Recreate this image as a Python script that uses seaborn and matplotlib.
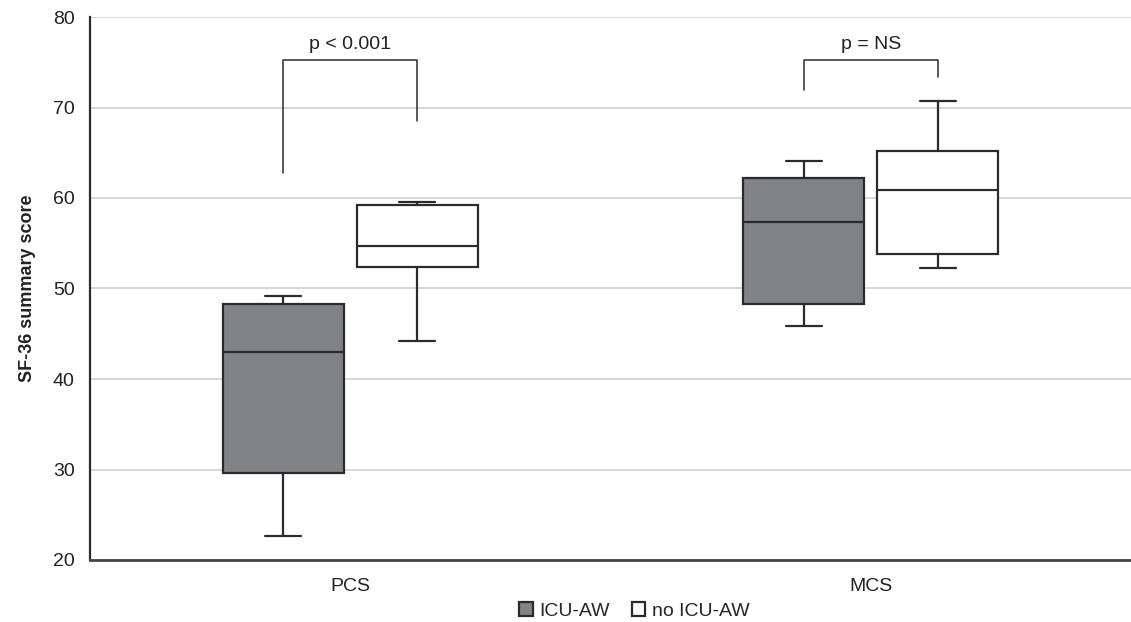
import pandas as pd
import seaborn as sns
import matplotlib.pyplot as plt

# Five-number summaries: min, Q1, median, Q3, max
measures = ["PCS", "MCS"]
groups = ["ICU-AW", "no ICU-AW"]
pcs_icu_aw = [22.6, 29.6, 43.0, 48.3, 49.2]
pcs_no_icu_aw = [44.2, 52.4, 54.7, 59.2, 59.6]
mcs_icu_aw = [45.9, 48.3, 57.3, 62.2, 64.1]
mcs_no_icu_aw = [52.3, 53.8, 60.9, 65.2, 70.7]

# significance brackets: left leg bottom, bar height, right leg bottom
p_labels = ["p < 0.001", "p = NS"]
bracket_left = [62.8, 71.9]
bracket_right = [68.5, 73.4]
bracket_top = 75.25
p_text_y = 77.0

yticks = [20, 30, 40, 50, 60, 70, 80]

rows = []
for m, g, vals in [("PCS", "ICU-AW", pcs_icu_aw), ("PCS", "no ICU-AW", pcs_no_icu_aw),
                   ("MCS", "ICU-AW", mcs_icu_aw), ("MCS", "no ICU-AW", mcs_no_icu_aw)]:
    for v in vals:
        rows.append({"measure": m, "group": g, "score": v})
df = pd.DataFrame(rows)

sns.set_theme(style="white")
plt.rcParams["font.family"] = ["Liberation Sans", "DejaVu Sans"]

dark = "#2b2b2b"
fig = plt.figure(figsize=(11.31, 6.22), dpi=100)
ax = fig.add_axes([90 / 1131, 62 / 622, 1041 / 1131, 543 / 622])

width = 0.515
sns.boxplot(data=df, x="measure", y="score", hue="group", order=measures,
            hue_order=groups, palette={"ICU-AW": "#808286", "no ICU-AW": "white"},
            width=width, gap=0.097, whis=(0, 100), fliersize=0, saturation=1,
            linecolor=dark, linewidth=1.6, ax=ax)

# narrower whisker caps
box_w = width / 2 * (1 - 0.097)
for line in ax.lines:
    xs, ys = line.get_xdata(), line.get_ydata()
    if len(xs) == 2 and ys[0] == ys[1] and abs(xs[1] - xs[0]) < 0.8 * box_w:
        c = (xs[0] + xs[1]) / 2
        line.set_xdata([c - 0.0345, c + 0.0345])

# significance brackets
off = width / 4
for i, lab in enumerate(p_labels):
    ax.plot([i - off, i - off, i + off, i + off],
            [bracket_left[i], bracket_top, bracket_top, bracket_right[i]],
            color=dark, lw=1.1)
    ax.text(i, p_text_y, lab, ha="center", va="center", fontsize=14, color="#222222")

ax.set_xlim(-0.5, 1.5)
ax.set_ylim(20, 80)
ax.set_yticks(yticks)
ax.yaxis.grid(True, color="#cccccc", lw=1.1)
ax.set_axisbelow(True)
sns.despine(ax=ax, top=True, right=True)
ax.spines["left"].set_color(dark)
ax.spines["left"].set_linewidth(1.6)
ax.spines["bottom"].set_color("#444444")
ax.spines["bottom"].set_linewidth(2)
ax.tick_params(axis="both", length=0, labelsize=14, colors="#222222")
ax.tick_params(axis="y", pad=11)
ax.tick_params(axis="x", pad=13)
ax.set_xlabel("")
ax.set_ylabel("SF-36 summary score", fontsize=13, fontweight="bold", color="#222222")
ax.yaxis.set_label_coords(-0.052, 0.5)

sns.move_legend(ax, "center", bbox_to_anchor=(0.523, -0.094), ncol=2, frameon=False,
                title=None, fontsize=14, handlelength=0.7, handleheight=0.7,
                handletextpad=0.35, columnspacing=1.1)

fig.savefig("out.png", dpi=100)
